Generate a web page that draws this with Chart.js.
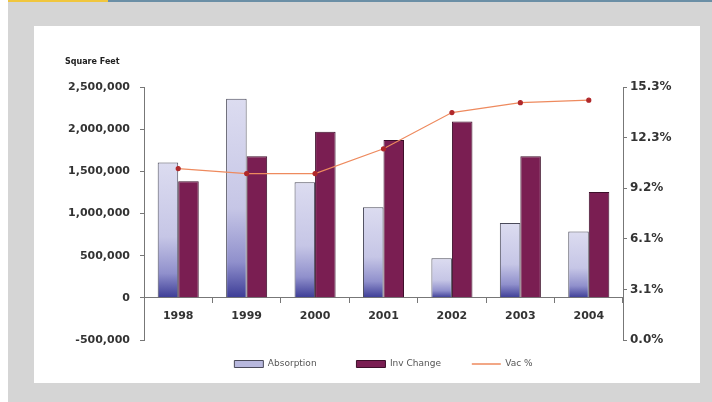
<!DOCTYPE html>
<html>
<head>
<meta charset="utf-8">
<script src="https://cdn.jsdelivr.net/npm/chart.js@4/dist/chart.umd.min.js"></script>
<style>
  html, body { margin: 0; padding: 0; background: #ffffff; width: 712px; height: 402px; overflow: hidden; }
  #bg { position: absolute; left: 8px; top: 0; width: 704px; height: 402px; background: #d5d5d5; }
  #yellow { position: absolute; left: 8px; top: 0; width: 100px; height: 2px; background: #f0c63e; }
  #blue { position: absolute; left: 108px; top: 0; width: 604px; height: 2px; background: #6b8fa6; }
  #panel { position: absolute; left: 34px; top: 26px; width: 666px; height: 357px; background: #ffffff; }
  #panel canvas { position: absolute; left: 0; top: 0; }
  #ytitle { position: absolute; left: 31px; top: 31px; font: bold 8px "DejaVu Sans", sans-serif; color: #222; white-space: nowrap; }
</style>
</head>
<body>
<div id="bg"></div>
<div id="yellow"></div>
<div id="blue"></div>
<div id="panel">
  <canvas id="c" width="666" height="357"></canvas>
  <div id="ytitle">Square Feet</div>
</div>
<script>
const categories = ['1998', '1999', '2000', '2001', '2002', '2003', '2004'];
const absorption = [1605000, 2360000, 1370000, 1075000, 470000, 887000, 788000];
const invChange = [1382000, 1679000, 1968000, 1872000, 2092000, 1679000, 1254000];
const vacancy = [10.4, 10.1, 10.1, 11.6, 13.8, 14.4, 14.55];
const leftTicks = [-500000, 0, 500000, 1000000, 1500000, 2000000, 2500000];
const rightTicks = [0, 3.07, 6.14, 9.21, 12.28, 15.35];
const rightTickLabels = ['0.0%', '3.1%', '6.1%', '9.2%', '12.3%', '15.3%'];
const seriesNames = ['Absorption', 'Inv Change', 'Vac %'];

const FONT = 'DejaVu Sans';
const legendPad = ['\u2003\u2003\u2003 ', '\u2003\u2003 ', ''];
const legendFill = ['#b8b8de', '#7a1e52', '#f0a07a'];
const legendStroke = ['#4a4a5a', '#3d0f2a', '#ee8a5e'];
const legendStyle = ['rect', 'rect', 'line'];

function absGradient(ctx) {
  const chart = ctx.chart;
  const ys = chart.scales && chart.scales.y;
  if (!ys || ctx.type !== 'data' || ctx.raw == null) return '#b8b8de';
  const top = ys.getPixelForValue(ctx.raw);
  const bot = ys.getPixelForValue(0);
  if (!isFinite(top) || !isFinite(bot) || top === bot) return '#b8b8de';
  const g = chart.ctx.createLinearGradient(0, top, 0, bot);
  g.addColorStop(0, '#dcdcf0');
  g.addColorStop(0.55, '#c6c6e6');
  g.addColorStop(0.82, '#9090cc');
  g.addColorStop(1, '#3c3c96');
  return g;
}

const legendShift = {
  id: 'legendShift',
  afterLayout(chart) {
    const l = chart.legend;
    if (l) { l.top += 9.5; l.bottom += 9.5; }
  }
};

new Chart(document.getElementById('c'), {
  data: {
    labels: categories,
    datasets: [
      {
        type: 'bar', label: seriesNames[0], data: absorption, yAxisID: 'y', order: 1,
        backgroundColor: absGradient, borderColor: '#4a4a5a', borderWidth: 1,
        categoryPercentage: 0.6, barPercentage: 1.0
      },
      {
        type: 'bar', label: seriesNames[1], data: invChange, yAxisID: 'y', order: 1,
        backgroundColor: '#7a1e52', borderColor: '#3d0f2a', borderWidth: 1,
        categoryPercentage: 0.6, barPercentage: 1.0
      },
      {
        type: 'line', label: seriesNames[2], data: vacancy, yAxisID: 'y1', order: 0,
        borderColor: '#ee8a5e', borderWidth: 1.2, backgroundColor: '#b52a2a',
        pointBackgroundColor: '#b0282a', pointBorderColor: '#b0282a',
        pointRadius: 2, pointStyle: 'circle', tension: 0, fill: false
      }
    ]
  },
  options: {
    responsive: false,
    animation: false,
    events: [],
    layout: { padding: { top: 61, bottom: 14, left: 0, right: 0 } },
    plugins: {
      title: { display: false },
      tooltip: { enabled: false },
      legend: {
        display: true,
        position: 'bottom',
        fullSize: false,
        align: 'center',
        labels: {
          usePointStyle: true,
          pointStyleWidth: 29,
          boxHeight: 7,
          padding: 10,
          color: '#555',
          font: { family: FONT, size: 9 },
          generateLabels(chart) {
            return chart.data.datasets.map((ds, i) => ({
              text: ds.label + legendPad[i],
              fillStyle: legendFill[i],
              strokeStyle: legendStroke[i],
              lineWidth: i === 2 ? 1.5 : 1,
              pointStyle: legendStyle[i],
              hidden: false,
              datasetIndex: i,
              fontColor: '#555'
            }));
          }
        }
      }
    },
    scales: {
      x: {
        type: 'category',
        position: { y: 0 },
        offset: true,
        grid: { display: true, drawOnChartArea: false, drawTicks: true, tickLength: 5, offset: true, color: '#777' },
        border: { display: true, color: '#777', width: 1 },
        ticks: { color: '#333', font: { family: FONT, size: 11, weight: 'bold' }, padding: 7, maxRotation: 0 }
      },
      y: {
        type: 'linear',
        position: 'left',
        min: -500000,
        max: 2500000,
        afterBuildTicks(scale) { scale.ticks = leftTicks.map(v => ({ value: v })); },
        afterFit(scale) { scale.width = 110; },
        grid: { drawOnChartArea: false, drawTicks: true, tickLength: 4, color: '#777' },
        border: { display: true, color: '#777', width: 1 },
        ticks: {
          color: '#333', font: { family: FONT, size: 11, weight: 'bold' }, padding: 10,
          callback: v => Number(v).toLocaleString('en-US')
        }
      },
      y1: {
        type: 'linear',
        position: 'right',
        min: 0,
        max: 15.35,
        afterBuildTicks(scale) { scale.ticks = rightTicks.map(v => ({ value: v })); },
        afterFit(scale) { scale.width = 77; },
        grid: { drawOnChartArea: false, drawTicks: true, tickLength: 4, color: '#777' },
        border: { display: true, color: '#777', width: 1 },
        ticks: {
          color: '#333', font: { family: FONT, size: 12, weight: 'bold' }, padding: 3,
          callback: (v, i) => rightTickLabels[i]
        }
      }
    }
  },
  plugins: [legendShift]
});
</script>
</body>
</html>
